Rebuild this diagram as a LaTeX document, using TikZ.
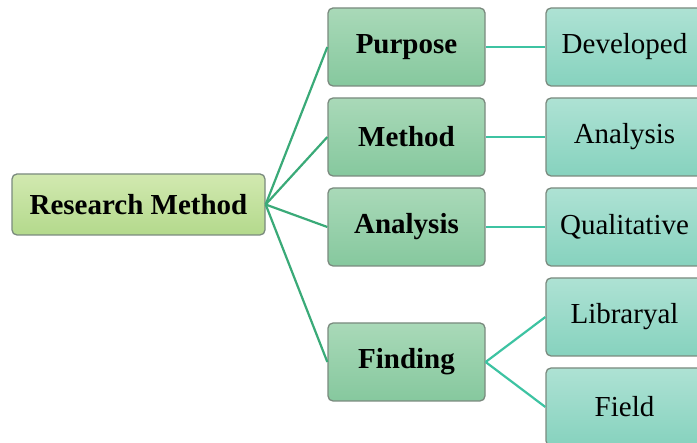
\documentclass[tikz,border=0pt]{standalone}
\usepackage{fontspec}
\setmainfont{Liberation Serif}
\definecolor{rootT}{HTML}{D2E9B0}
\definecolor{rootB}{HTML}{B3D98C}
\definecolor{midT}{HTML}{A9D9B8}
\definecolor{midB}{HTML}{86C89E}
\definecolor{leafT}{HTML}{AEE2D4}
\definecolor{leafB}{HTML}{86D2BE}
\definecolor{edgeG}{HTML}{7A8A7E}
\definecolor{lineA}{HTML}{3AAA78}
\definecolor{lineB}{HTML}{3DC3A2}
\tikzset{
  box/.style={draw=edgeG, line width=1.3pt, rounded corners=5pt, inner sep=0pt,
    font=\fontsize{29}{34}\selectfont},
  rootbox/.style={box, top color=rootT, bottom color=rootB, minimum width=253pt, minimum height=61pt, font=\fontsize{29}{34}\selectfont\bfseries},
  midbox/.style={box, top color=midT, bottom color=midB, minimum width=157pt, minimum height=78pt, font=\fontsize{29}{34}\selectfont\bfseries},
  leafbox/.style={box, top color=leafT, bottom color=leafB, minimum width=157pt, minimum height=78pt},
  linkA/.style={draw=lineA, line width=2.2pt},
  linkB/.style={draw=lineB, line width=2.2pt}
}
\begin{document}
\begin{tikzpicture}[x=1pt,y=-1pt]
\useasboundingbox (0,0) rectangle (697,443);
\clip (0,0) rectangle (697,443);
\node[rootbox] (root) at (138.5,204.5) {Research Method};
\node[midbox] (pur) at (406.5,47) {Purpose};
\node[midbox] (met) at (406.5,137) {Method};
\node[midbox] (ana) at (406.5,227) {Analysis};
\node[midbox] (fin) at (406.5,362) {Finding};
\node[leafbox] (dev) at (624.5,47) {Developed};
\node[leafbox] (lana) at (624.5,137) {Analysis};
\node[leafbox] (qual) at (624.5,227) {Qualitative};
\node[leafbox] (lib) at (624.5,317) {Libraryal};
\node[leafbox] (fld) at (624.5,407) {Field};
\foreach \t in {pur,met,ana,fin}{
  \draw[linkA] (root.east) -- (\t.west);
}
\draw[linkB] (pur.east) -- (dev.west);
\draw[linkB] (met.east) -- (lana.west);
\draw[linkB] (ana.east) -- (qual.west);
\draw[linkB] (fin.east) -- (lib.west);
\draw[linkB] (fin.east) -- (fld.west);
\end{tikzpicture}
\end{document}
